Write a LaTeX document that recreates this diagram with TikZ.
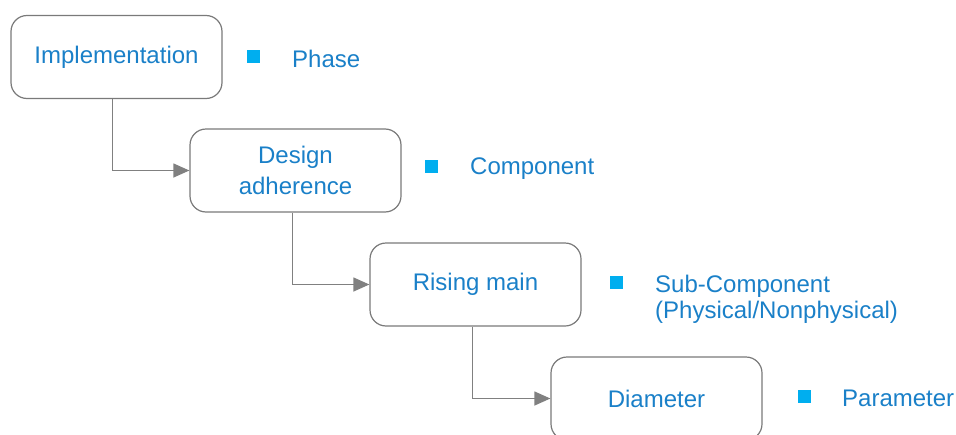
\documentclass[tikz,border=0pt]{standalone}
\usepackage{fontspec}
\setmainfont{Liberation Sans}
\usetikzlibrary{arrows.meta}
\definecolor{txtblue}{HTML}{1A80C8}
\definecolor{bulletblue}{HTML}{00AEEF}
\definecolor{boxgray}{HTML}{7A7A7A}
\definecolor{linegray}{HTML}{808080}
\begin{document}
\begin{tikzpicture}[x=1pt,y=-1pt,
  box/.style={draw=boxgray, line width=1.2pt, rounded corners=16pt,
    minimum width=211pt, minimum height=83pt, text=txtblue,
    font=\fontsize{24}{31}\selectfont, align=center, inner sep=0pt},
  bullet/.style={fill=bulletblue, minimum size=13pt, inner sep=0pt},
  lbl/.style={anchor=west, text=txtblue, font=\fontsize{24}{26}\selectfont,
    align=left, inner sep=0pt},
  conn/.style={draw=linegray, line width=1.2pt,
    -{Triangle[length=16pt,width=14pt]}}]
\useasboundingbox (0,0) rectangle (956,434);
\clip (0,0) rectangle (956,434);
\node[box] (b1) at (116.5,57) {Implementation};
\node[box] (b2) at (295.5,170.5) {Design\\adherence};
\node[box] (b3) at (475.5,284.5) {Rising main};
\node[box] (b4) at (656.5,398.5) {Diameter};
\node[bullet] (s1) at (253.5,56) {};
\node[bullet] (s2) at (431,166) {};
\node[bullet] (s3) at (616,282) {};
\node[bullet] (s4) at (804,396) {};
\node[lbl] (l1) at (292,59) {Phase};
\node[lbl] (l2) at (470,169) {Component};
\node[lbl] (l3) at (655,299) {Sub-Component\\(Physical/Nonphysical)};
\node[lbl] (l4) at (842,398) {Parameter};
\draw[conn] ([xshift=-4pt]b1.south) |- (b2.west);
\draw[conn] ([xshift=-3pt]b2.south) |- (b3.west);
\draw[conn] ([xshift=-3pt]b3.south) |- (b4.west);
\end{tikzpicture}
\end{document}
